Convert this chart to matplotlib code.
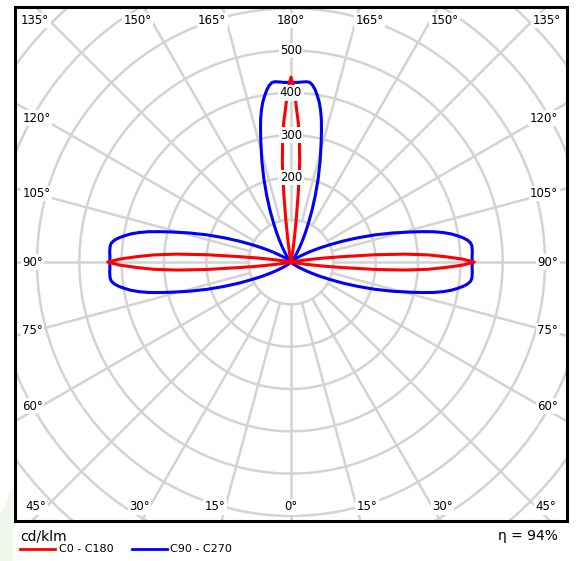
import numpy as np
import matplotlib
matplotlib.use("Agg")
import matplotlib.pyplot as plt

# luminous intensity (cd/klm) vs gamma angle (0 = down, 180 = up)
red_gamma = [0, 70, 75, 78,
             80, 81, 82, 83, 84, 85, 86, 87, 88, 89, 90, 91, 92, 93, 94, 95, 96, 97, 98, 99, 100,
             102, 105, 110, 160, 165, 168,
             170, 171, 172, 173, 174, 175, 176, 177, 178, 179, 180]
red_cd = [0, 0, 2, 6,
          12, 25, 45, 80, 125, 200, 270, 325, 365, 405, 433, 405, 365, 325, 270, 200, 125, 80, 45, 25, 12,
          6, 2, 0, 0, 2, 6,
          12, 28, 55, 100, 165, 235, 285, 330, 365, 410, 437]

blue_gamma = [0, 35, 40, 45, 50, 54, 57, 60, 62, 64, 66, 68, 70, 72, 74,
              76, 77, 78, 79, 80, 81, 82, 83, 84, 85, 86, 87, 88, 89, 90,
              91, 92, 93, 94, 95, 96, 97, 98, 99, 100, 101, 102, 103, 104,
              106, 108, 110, 112, 114, 116, 118, 120, 123, 126, 130, 135,
              140, 144, 147, 150, 152, 154, 156, 158, 160, 162, 164,
              166, 167, 168, 169, 170, 171, 172, 173, 174, 175, 176, 177, 178, 179, 180]
blue_cd = [0, 0, 0, 2, 6, 14, 25, 42, 58, 78, 102, 133, 168, 208, 250,
           295, 320, 345, 366, 384, 398, 411, 421, 427, 429, 429, 429, 428, 428, 428,
           428, 428, 429, 429, 429, 427, 421, 411, 398, 384, 366, 345, 320, 295,
           250, 208, 168, 133, 102, 78, 58, 42, 25, 14, 6, 2,
           6, 14, 25, 42, 58, 78, 102, 133, 168, 208, 250,
           295, 320, 345, 366, 384, 398, 411, 421, 427, 428, 427, 426, 425, 425, 425]

radial_ticks = [200, 300, 400, 500]
circle_radii = [100, 200, 300, 400, 500, 600, 700, 800, 900]
top_angles = [135, 150, 165, 180]
side_angles = [120, 105, 90, 75, 60]
bottom_angles = [45, 30, 15, 0]

GRID = "#d3d3d3"

fig = plt.figure(figsize=(5.76, 5.61), dpi=100)
ax = fig.add_axes([15 / 576, 40 / 561, 552 / 576, 514 / 561])
ax.set_xlim(-652, 652)
ax.set_ylim(-612, 603)
ax.set_xticks([])
ax.set_yticks([])
for sp in ax.spines.values():
    sp.set_linewidth(2.2)
    sp.set_color("black")
    sp.set_zorder(10)

# grid circles and spokes
t = np.linspace(0, 2 * np.pi, 400)
for r in circle_radii:
    ax.plot(r * np.cos(t), r * np.sin(t), color=GRID, lw=1.8, zorder=1)
for a in range(0, 360, 15):
    g = np.radians(a)
    ax.plot([100 * np.sin(g), 1000 * np.sin(g)], [-100 * np.cos(g), -1000 * np.cos(g)],
            color=GRID, lw=1.8, zorder=1)


def curve(gamma, cd):
    g = np.radians(gamma)
    I = np.array(cd, dtype=float)
    xr, yr = I * np.sin(g), -I * np.cos(g)
    return np.concatenate([xr, -xr[::-1]]), np.concatenate([yr, yr[::-1]])


bx, by = curve(blue_gamma, blue_cd)
ax.plot(bx, by, color="#0000ff", lw=2.2, zorder=3, solid_joinstyle="round")
rx, ry = curve(red_gamma, red_cd)
ax.plot(rx, ry, color="#ff0000", lw=2.2, zorder=4, solid_joinstyle="round")

box = dict(facecolor="white", edgecolor="none", boxstyle="square,pad=0.12")
fs = 8.5

# radial labels
for r in radial_ticks:
    ax.text(0, r, str(r), ha="center", va="center", fontsize=fs, bbox=box, zorder=6)

# top / bottom angle labels
for a in top_angles:
    y = 571
    x = y * np.tan(np.radians(180 - a))
    if a == 180:
        ax.text(0, y, "180°", ha="center", va="center", fontsize=fs, bbox=box, zorder=6)
    else:
        ax.text(-x, y, f"{a}°", ha="right", va="center", fontsize=fs, bbox=box, zorder=6)
        ax.text(x, y, f"{a}°", ha="left", va="center", fontsize=fs, bbox=box, zorder=6)
for a in bottom_angles:
    y = -578
    x = -y * np.tan(np.radians(a))
    if a == 0:
        ax.text(0, y, "0°", ha="center", va="center", fontsize=fs, bbox=box, zorder=6)
    else:
        ax.text(-x, y, f"{a}°", ha="right", va="center", fontsize=fs, bbox=box, zorder=6)
        ax.text(x, y, f"{a}°", ha="left", va="center", fontsize=fs, bbox=box, zorder=6)

# side labels
for a in side_angles:
    g = np.radians(a)
    y = -576 * np.cos(g) / np.sin(g)
    if a > 90:
        y += 8
    elif a < 90:
        y -= 8
    ax.text(-635, y, f"{a}°", ha="left", va="center", fontsize=fs, bbox=box, zorder=6)
    ax.text(631, y, f"{a}°", ha="right", va="center", fontsize=fs, bbox=box, zorder=6)

# faint watermark shape at the lower left
fig.patches.append(plt.Polygon([(0, 0), (0, 46 / 561), (13 / 576, 74 / 561), (13 / 576, 0)],
                               closed=True, transform=fig.transFigure, facecolor="#f0f7ea",
                               edgecolor="none", zorder=0))

# legend and footer
fig.text(20 / 576, 1 - 536 / 561, "cd/klm", fontsize=10, va="center", ha="left")
fig.lines.append(plt.Line2D([20 / 576, 55 / 576], [1 - 549 / 561] * 2, color="#ff0000", lw=2,
                            transform=fig.transFigure))
fig.text(59 / 576, 1 - 549 / 561, "C0 - C180", fontsize=8, va="center", ha="left")
fig.lines.append(plt.Line2D([132 / 576, 167 / 576], [1 - 549 / 561] * 2, color="#0000ff", lw=2,
                            transform=fig.transFigure))
fig.text(170 / 576, 1 - 549 / 561, "C90 - C270", fontsize=8, va="center", ha="left")
fig.text(558 / 576, 1 - 536 / 561, "η = 94%", fontsize=10, va="center", ha="right")

fig.savefig("out.png", dpi=100)
